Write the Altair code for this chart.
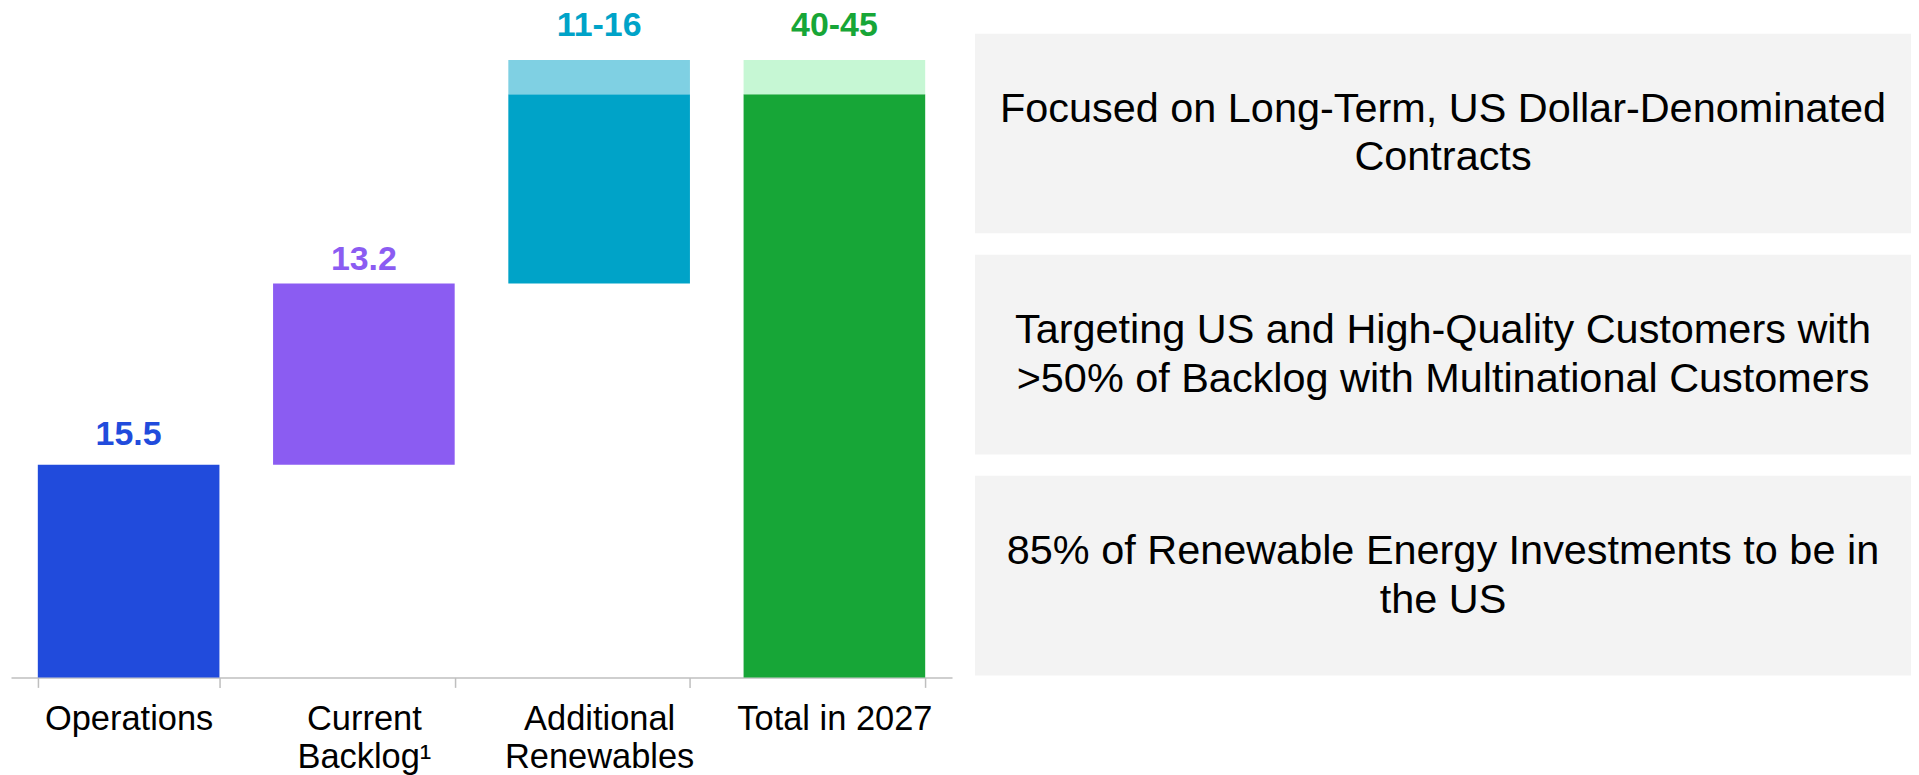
import altair as alt
import pandas as pd

# ---- data ----
categories = ["Operations", "Current\nBacklog¹", "Additional\nRenewables", "Total in 2027"]
base_start = [0.0, 15.5, 28.7, 0.0]
base_end = [15.5, 28.7, 42.5, 42.5]
upside_end = [None, None, 45.0, 45.0]
value_labels = ["15.5", "13.2", "11-16", "40-45"]
base_colors = ["#214BDC", "#8B5CF2", "#00A3C8", "#17A637"]
upside_colors = [None, None, "#7FD0E3", "#C6F7D4"]

box_texts = [
    "Focused on Long-Term, US Dollar-Denominated\nContracts",
    "Targeting US and High-Quality Customers with\n>50% of Backlog with Multinational Customers",
    "85% of Renewable Energy Investments to be in\nthe US",
]

# ---- tables ----
seg_rows = []
for c, s, e, col in zip(categories, base_start, base_end, base_colors):
    seg_rows.append({"cat": c, "start": s, "end": e, "color": col})
for c, s, u, col in zip(categories, base_end, upside_end, upside_colors):
    if u is not None:
        seg_rows.append({"cat": c, "start": s, "end": u, "color": col})
segs = pd.DataFrame(seg_rows)

lab_rows = []
for c, e, u, t, col in zip(categories, base_end, upside_end, value_labels, base_colors):
    lab_rows.append({"cat": c, "top": u if u is not None else e, "label": t,
                     "color": col, "ranged": u is not None})
labs = pd.DataFrame(lab_rows)

boxes = pd.DataFrame({"box": [f"b{i}" for i in range(len(box_texts))], "text": box_texts})

W_LEFT, W_RIGHT, H = 943, 938, 670

x_enc = alt.X(
    "cat:N",
    sort=categories,
    scale=alt.Scale(paddingInner=0.228, paddingOuter=0.114),
    axis=alt.Axis(
        title=None,
        labelAngle=0,
        labelExpr="split(datum.label, '\\n')",
        labelFont="Liberation Sans, Arial",
        labelFontSize=34.5,
        labelLineHeight=38,
        labelColor="#000000",
        labelPadding=15,
        labelLimit=400,
        domainColor="#BFBFBF",
        domainWidth=1.5,
        tickColor="#BFBFBF",
        tickWidth=1.5,
        tickSize=10,
        tickBand="extent",
        grid=False,
    ),
)
y_scale = alt.Scale(domain=[0, 48.73], nice=False, zero=True)

bars = alt.Chart(segs).mark_bar().encode(
    x=x_enc,
    y=alt.Y("start:Q", scale=y_scale, axis=None),
    y2="end:Q",
    color=alt.Color("color:N", scale=None),
)


def label_layer(filt, dy):
    return alt.Chart(labs).transform_filter(filt).mark_text(
        font="Liberation Sans", fontWeight="bold", fontSize=34,
        baseline="alphabetic", dy=dy
    ).encode(
        x=alt.X("cat:N", sort=categories),
        y=alt.Y("top:Q", scale=y_scale),
        text="label:N",
        color=alt.Color("color:N", scale=None),
    )


labels_ranged = label_layer(alt.datum.ranged, -24)
labels_ops = label_layer(alt.datum.label == "15.5", -20)
labels_b = label_layer(alt.datum.label == "13.2", -14)

left = alt.layer(bars, labels_ranged, labels_ops, labels_b).properties(width=W_LEFT, height=H)

box_y = alt.Y(
    "box:N",
    sort=None,
    axis=None,
    scale=alt.Scale(paddingInner=0.097, paddingOuter=0.061, align=0.926),
)
rects = alt.Chart(boxes).mark_rect(color="#F3F3F3").encode(
    y=box_y, x=alt.value(0), x2=alt.value(W_RIGHT)
)
texts = alt.Chart(boxes).mark_text(
    font="Liberation Sans", fontSize=41.5, lineHeight=49, lineBreak="\n",
    color="#000000", align="center", baseline="middle", dy=-24
).encode(y=box_y, x=alt.value(W_RIGHT / 2), text="text:N")

right = alt.layer(rects, texts).properties(width=W_RIGHT, height=H)

chart = (
    alt.hconcat(left, right, spacing=23)
    .properties(padding={"left": 3, "top": 0, "right": 0, "bottom": 0})
    .configure_view(stroke=None)
)

chart.save("out.html", embed_options={"renderer": "svg", "actions": False})
